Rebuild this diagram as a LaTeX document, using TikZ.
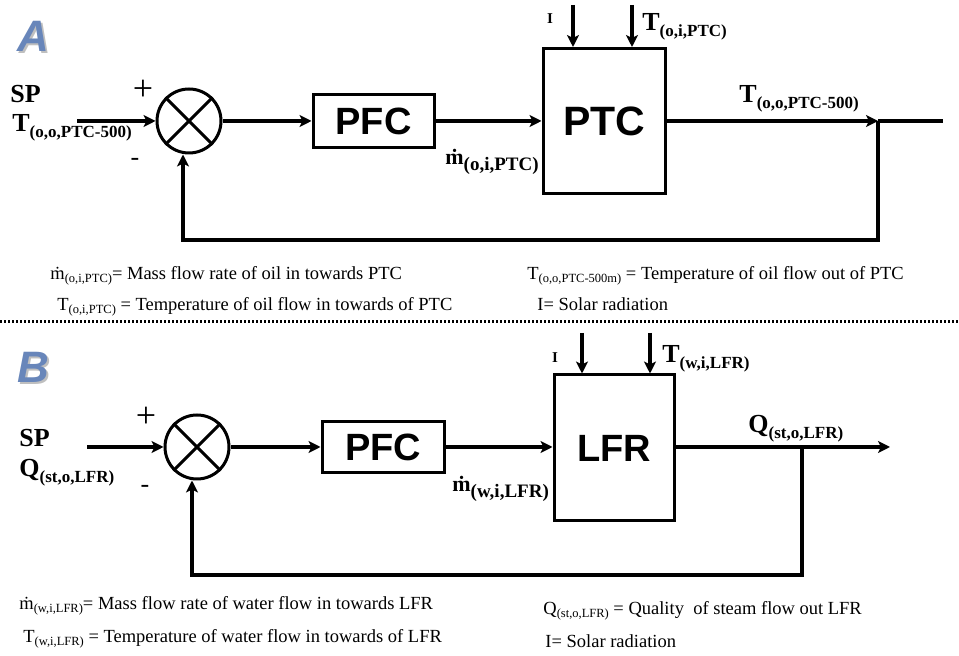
\documentclass[tikz,border=0pt]{standalone}
\usepackage{fontspec}
\setmainfont{Liberation Serif}
\newfontfamily\boxfont{Liberation Sans}
\usepackage{tikz}
\usetikzlibrary{arrows.meta, positioning}
\usepackage{xcolor}
\definecolor{panelblue}{RGB}{104,134,186}

\newcommand{\lowsub}[2][8.5]{\raisebox{-3pt}{\fontsize{#1}{#1}\selectfont #2}}
\newcommand{\legsub}[1]{\raisebox{-1.5pt}{\fontsize{6.25}{6.5}\selectfont #1}}

\begin{document}
\begin{tikzpicture}[x=0.5pt, y=-0.5pt,
    block/.style={draw, line width=1.5pt, inner sep=0pt, font=\boxfont\bfseries\fontsize{19}{19}\selectfont},
    sumjct/.style={draw, circle, line width=1.5pt, minimum size=32pt, inner sep=0pt},
    sig/.style={line width=1.8pt, -{Stealth[length=6pt, width=6pt, inset=1.5pt]}},
    wire/.style={line width=1.8pt},
    lbl/.style={font=\bfseries\fontsize{13}{13}\selectfont, inner sep=0pt, anchor=base west},
    sgn/.style={font=\fontsize{18}{18}\selectfont, inner sep=0pt},
    leg/.style={font=\fontsize{9.25}{10}\selectfont, inner sep=0pt, anchor=base west},
    panel/.style={font=\boxfont\bfseries\itshape\fontsize{22}{22}\selectfont, text=panelblue, inner sep=0pt, anchor=base west},
    sepline/.style={line width=1.5pt, dash pattern=on 1.2pt off 0.8pt}]
  \useasboundingbox (0,0) rectangle (959,656);

  % ---------- A : PTC loop
  \node[panel, text=black!25] at (19,54) {A};
  \node[panel] (panA) at (17,52) {A};
  \node[lbl] (spA) at (10,103) {SP};
  \node[lbl] (setA) at (12,132) {T\lowsub{(o,o,PTC-500)}};
  \node[sumjct] (sumA) at (189,121) {};
  \draw[line width=1.5pt] (sumA.north west) -- (sumA.south east) (sumA.north east) -- (sumA.south west);
  \node[sgn] (plusA) at (143,90) {+};
  \node[sgn, font=\fontsize{13}{13}\selectfont] (minA) at (135,162) {-};
  \node[block, minimum width=60.5pt, minimum height=26.5pt] (pfcA) at (373.5,121) {PFC};
  \node[block, minimum width=61pt, minimum height=72.5pt, font=\boxfont\bfseries\fontsize{20.5}{20.5}\selectfont] (ptcA) at (604,121) {PTC};
  \coordinate (inA) at (77,121);
  \coordinate (tapA) at (878,121);
  \coordinate (outA) at (943,121);
  \coordinate (fbA) at (183,240);
  \coordinate (irrA) at (573,5);
  \coordinate (tinA) at (632,5);
  \draw[sig] (inA) -- (sumA);
  \draw[sig] (sumA) -- (pfcA);
  \draw[sig] (pfcA) -- (ptcA);
  \draw[sig] (ptcA) -- (tapA);
  \draw[wire] (tapA) -- (outA);
  \draw[sig] (tapA) |- (fbA) -- (fbA |- sumA.south);
  \draw[sig] (irrA) -- (irrA |- ptcA.north);
  \draw[sig] (tinA) -- (tinA |- ptcA.north);
  \node[font=\bfseries\fontsize{7.5}{7.5}\selectfont, inner sep=0pt] (iA) at (550,19) {I};
  \node[lbl] (tiA) at (642,31) {T\lowsub{(o,i,PTC)}};
  \node[lbl] (toA) at (739,103) {T\lowsub{(o,o,PTC-500)}};
  \node[lbl, font=\bfseries\fontsize{11}{11}\selectfont] (mA) at (445,165) {\.{m}\lowsub[9.5]{(o,i,PTC)}};

  \node[leg] (legA1) at (50,280) {\.{m}\legsub{(o,i,PTC)}= Mass flow rate of oil in towards PTC};
  \node[leg] (legA2) at (57,311) {T\legsub{(o,i,PTC)} = Temperature of oil flow in towards of PTC};
  \node[leg] (legA3) at (527,280) {T\legsub{(o,o,PTC-500m)} = Temperature of oil flow out of PTC};
  \node[leg] (legA4) at (537,311) {I= Solar radiation};

  \coordinate (sepL) at (0,322);
  \coordinate (sepR) at (959,322);
  \draw[sepline] (sepL) -- (sepR);

  % ---------- B : LFR loop
  \node[panel, text=black!25] at (19,385) {B};
  \node[panel] (panB) at (17,383) {B};
  \node[lbl] (spB) at (19,447) {SP};
  \node[lbl] (setB) at (19,477) {Q\lowsub{(st,o,LFR)}};
  \node[sumjct] (sumB) at (197,447) {};
  \draw[line width=1.5pt] (sumB.north west) -- (sumB.south east) (sumB.north east) -- (sumB.south west);
  \node[sgn] (plusB) at (146,417) {+};
  \node[sgn, font=\fontsize{13}{13}\selectfont] (minB) at (145,489) {-};
  \node[block, minimum width=61pt, minimum height=25.5pt] (pfcB) at (383,447) {PFC};
  \node[block, minimum width=60pt, minimum height=73pt] (lfrB) at (614,448) {LFR};
  \coordinate (inB) at (87,447);
  \coordinate (tapB) at (802,447);
  \coordinate (outB) at (890,447);
  \coordinate (fbB) at (192,575);
  \coordinate (irrB) at (582,333);
  \coordinate (tinB) at (650,333);
  \draw[sig] (inB) -- (sumB);
  \draw[sig] (sumB) -- (pfcB);
  \draw[sig] (pfcB) -- (pfcB -| lfrB.west);
  \draw[sig] (pfcB -| lfrB.east) -- (outB);
  \draw[sig] (tapB) |- (fbB) -- (fbB |- sumB.south);
  \draw[sig] (irrB) -- (irrB |- lfrB.north);
  \draw[sig] (tinB) -- (tinB |- lfrB.north);
  \node[font=\bfseries\fontsize{7.5}{7.5}\selectfont, inner sep=0pt] (iB) at (555,358) {I};
  \node[lbl] (tiB) at (662,363) {T\lowsub{(w,i,LFR)}};
  \node[lbl] (qoB) at (748,433) {Q\lowsub{(st,o,LFR)}};
  \node[lbl, font=\bfseries\fontsize{11}{11}\selectfont] (mB) at (452,492) {\.{m}\lowsub[9.5]{(w,i,LFR)}};

  \node[leg] (legB1) at (19,610) {\.{m}\legsub{(w,i,LFR)}= Mass flow rate of water flow in towards LFR};
  \node[leg] (legB2) at (23,643) {T\legsub{(w,i,LFR)} = Temperature of water flow in towards of LFR};
  \node[leg] (legB3) at (543,615) {Q\legsub{(st,o,LFR)} = Quality\ \ of steam flow out LFR};
  \node[leg] (legB4) at (545,648) {I= Solar radiation};
\end{tikzpicture}
\end{document}
